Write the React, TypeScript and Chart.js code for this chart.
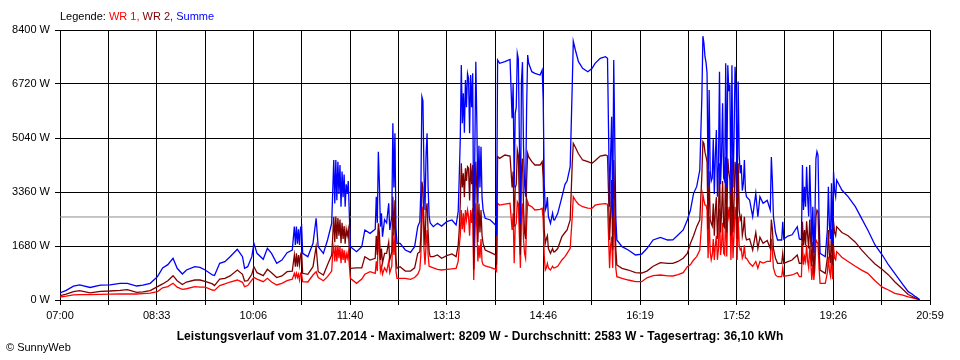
import React, { useEffect, useRef } from 'react';
import Chart from 'chart.js/auto';

// minutes after 07:00
const minutes = [
  0, 6, 13, 19, 29, 39, 48, 58, 65, 74, 80, 87, 94, 99, 104, 109, 113, 118, 122, 130, 135, 140, 147, 149, 154, 159, 164, 171, 176, 178, 181, 185, 187, 190, 196, 200, 204, 209, 214, 219, 224,
  226, 227, 228, 229, 230, 231, 232, 233, 234, 239, 244, 247, 249, 254, 258, 262,
  263, 264, 265, 266, 267, 268, 269, 270, 271, 272, 273, 274, 275, 276, 277, 278, 280, 286, 291, 294, 299, 304,
  305, 306, 307, 308, 309, 310, 311, 313, 315, 317, 318, 320, 321, 322, 323, 324, 325, 328, 333, 338, 342, 345, 347,
  348, 349, 350, 351, 352, 353, 354, 355, 356, 357, 360, 364, 368, 373, 378, 382, 384,
  385, 386, 387, 388, 389, 390, 391, 392, 393, 394, 395, 396, 397, 398, 399, 400, 401, 402, 403, 404, 405, 406, 407, 408, 410, 415, 420, 421, 422, 424, 429, 434,
  436, 437, 438, 439, 440, 441, 442, 443, 444, 445, 446, 447, 448, 449, 450, 451, 452, 455, 458, 463, 465,
  466, 467, 468, 469, 470, 471, 473, 475, 476, 477, 480, 484, 487, 489, 492, 494, 495, 497, 500, 504, 509, 513, 516, 521, 526, 528,
  529, 530, 531, 532, 533, 534, 535, 536, 537, 542, 548, 555, 561, 566, 572, 579, 586, 591, 596, 601, 605, 608, 611, 614, 617,
  619, 620, 621, 622, 623, 624, 625, 626, 627, 628, 629, 630, 631, 632, 633, 634, 635, 636, 637, 638, 639, 640,
  641, 642, 643, 644, 645, 646, 647, 648, 649, 650, 651, 652, 653, 654, 655, 656, 657, 658, 659, 660, 661, 662,
  665, 668, 671, 673, 675, 678, 682, 685, 686, 687, 688, 690, 692, 696, 697, 698, 702, 706, 711, 713, 715,
  716, 717, 718, 719, 720, 721, 722, 723, 724, 725, 726, 727, 728, 729, 730, 731, 732, 733, 738,
  740, 741, 742, 743, 744, 745, 746, 747, 748, 749, 754, 760, 767, 773, 779, 786, 793, 799, 805, 812, 818, 822, 825, 828, 829,
];

const wr1 = [
  93, 120, 160, 170, 166, 175, 180, 187, 190, 187, 200, 215, 260, 380, 415, 519, 400, 330, 350, 415, 400, 400, 311, 300, 450, 500, 560, 622, 550, 415, 450, 620, 705, 650, 570, 674, 560, 467, 520, 600, 650,
  830, 700, 830, 700, 800, 620, 830, 800, 570, 560, 778, 881, 700, 600, 726, 900,
  1452, 1659, 1200, 1700, 1200, 1700, 1300, 1650, 1141, 1600, 1250, 1550, 1150, 1450, 1300, 1500, 674, 519, 650, 800, 881, 830,
  1200, 900, 2178, 1500, 900, 1050, 800, 1000, 881, 1200, 850, 1050, 2126, 1400, 2000, 900, 674, 674, 674, 643, 700, 800, 950,
  1400, 2700, 2903, 1600, 1100, 1700, 2178, 1400, 1050, 1037, 1000, 950, 933, 950, 970, 986, 1200,
  1659, 2000, 2800, 2200, 2700, 2100, 2800, 2500, 2800, 2592, 2000, 2800, 2400, 2850, 620, 1800, 3007, 2200, 1200, 1700, 1300, 1900, 1200, 1100, 1058, 1016, 955, 900, 3007, 2955, 2986, 3007,
  2178, 2700, 1141, 2300, 2400, 3059, 3000, 2000, 1000, 2700, 3000, 1900, 1452, 1300, 2400, 3059, 2950, 2903, 2800, 2820, 2851,
  2500, 1348, 933, 1000, 1141, 1000, 933, 1050, 1000, 1000, 1050, 1244, 1350, 1452, 1608, 2592, 3215, 3100, 2980, 2903, 2860, 2851, 2950, 2986, 3000, 2980,
  2000, 986, 1700, 1970, 1000, 3007, 2000, 1000, 726, 674, 622, 570, 570, 690, 760, 778, 750, 747, 790, 850, 1037, 1100, 1244, 1350, 1556,
  2500, 3279, 3100, 2950, 2950, 2800, 1300, 2600, 1500, 1250, 1400, 1900, 1244, 1700, 2000, 1250, 1600, 2850, 1400, 1700, 2400, 1450,
  1400, 2900, 1350, 2900, 2600, 2903, 1244, 2900, 1300, 2000, 2900, 2500, 1244, 2600, 1700, 1556, 1600, 1300, 1400, 1700, 1300, 1300,
  1141, 1050, 1200, 986, 1200, 1150, 1200, 1200, 1900, 1556, 1000, 778, 726, 726, 1000, 740, 760, 778, 850, 726, 726,
  1763, 1100, 1350, 1200, 1711, 1200, 1000, 1650, 1200, 622, 1100, 622, 1000, 1867, 1800, 1750, 1000, 519, 519,
  850, 1348, 900, 750, 1400, 650, 1659, 1300, 1250, 1504, 1330, 1200, 1050, 930, 830, 600, 400, 311, 207, 156, 100, 70, 45, 20, 0,
];

const wr2 = [
  135, 180, 260, 290, 220, 270, 280, 300, 320, 240, 250, 290, 415, 500, 600, 757, 600, 480, 560, 622, 622, 580, 500, 450, 650, 674, 750, 933, 800, 590, 600, 800, 1037, 850, 760, 955, 850, 700, 750, 881, 900,
  1400, 1037, 1450, 1037, 1400, 1100, 1400, 1504, 830, 800, 1037, 1659, 881, 778, 1100, 1400,
  1970, 2592, 1800, 2600, 1900, 2550, 2000, 2500, 1763, 2400, 1900, 2300, 1750, 2200, 2000, 2200, 986, 1000, 1000, 1348, 1244, 1296,
  2000, 1400, 2386, 2100, 1244, 1600, 1150, 1450, 1452, 1800, 1244, 1500, 3215, 2000, 3100, 1300, 986, 1037, 900, 900, 1000, 1452, 1500,
  2000, 3681, 3500, 2400, 1700, 2800, 3007, 2100, 1500, 1348, 1350, 1400, 1300, 1380, 1431, 1348, 1700,
  2178, 3000, 4252, 3500, 3941, 3200, 4100, 3700, 4148, 4100, 3100, 4252, 3600, 4200, 950, 2800, 4304, 3400, 1800, 3000, 2100, 2800, 2000, 1763, 1556, 1480, 1400, 1100, 4459, 4407, 4511, 4480,
  3500, 4000, 2282, 3500, 3600, 4667, 4500, 3000, 1400, 4100, 4400, 2900, 2100, 1900, 3700, 4563, 4450, 4304, 4200, 4200, 4304,
  3800, 2178, 1763, 1900, 2000, 1600, 1452, 1600, 1500, 1500, 1600, 1970, 2100, 2178, 2489, 4252, 4874, 4750, 4550, 4356, 4304, 4252, 4330, 4480, 4511, 4480,
  3300, 1867, 2700, 3733, 1556, 4356, 3000, 1600, 1089, 986, 933, 850, 840, 900, 1050, 1161, 1140, 1141, 1200, 1300, 1450, 1763, 2000, 2282, 2489,
  3900, 4930, 4874, 4600, 4459, 4300, 2200, 4000, 2500, 2386, 2300, 3000, 2000, 2800, 3200, 1900, 2600, 4252, 2100, 2700, 3700, 2300,
  2250, 4459, 2100, 4400, 4000, 3733, 2000, 4400, 2100, 3000, 4300, 4000, 1900, 4252, 2800, 2500, 2600, 2000, 2200, 2592, 2000, 1867,
  1900, 1556, 2100, 1600, 1950, 1763, 1850, 1600, 2500, 2200, 1600, 1300, 1141, 1141, 1452, 1141, 1192, 1244, 1400, 1141, 1141,
  2437, 1700, 2178, 1700, 2450, 2000, 1600, 2500, 1800, 1050, 1800, 830, 1500, 2592, 2800, 2750, 1600, 933, 830,
  1300, 2178, 1400, 1150, 2200, 1100, 2437, 2100, 2000, 2282, 2100, 2000, 1800, 1560, 1350, 1120, 950, 780, 570, 360, 170, 110, 60, 20, 0,
];

const summe = [
  220, 300, 430, 470, 390, 460, 470, 520, 520, 435, 460, 519, 726, 1000, 1100, 1296, 986, 809, 933, 1037, 1016, 933, 778, 760, 1141, 1192, 1348, 1577, 1348, 986, 1037, 1348, 1763, 1452, 1265, 1608, 1452, 1141, 1244, 1473, 1556,
  2282, 1711, 2282, 1750, 2200, 1711, 2250, 2302, 1450, 1348, 1763, 2541, 1659, 1452, 1867, 2386,
  3370, 4356, 3000, 4356, 3100, 4300, 3300, 4200, 2900, 4000, 3200, 3900, 2900, 3600, 3300, 3700, 1659, 1504, 1659, 2178, 2074, 2200,
  3215, 2400, 4615, 3630, 2282, 2696, 1970, 2500, 2400, 3007, 2178, 2600, 5496, 3500, 5185, 2200, 1763, 1763, 1556, 1480, 1659, 2282, 2437,
  3400, 6325, 6200, 4000, 2800, 4500, 5185, 3500, 2592, 2400, 2282, 2386, 2300, 2437, 2489, 2333, 2747,
  3800, 5000, 7311, 5500, 6430, 5200, 6844, 6000, 7052, 6900, 5185, 7000, 6000, 7052, 1556, 4500, 7415, 5500, 3007, 4800, 3500, 4770, 3200, 2800, 2541, 2489, 2333, 2000, 7467, 7363, 7415, 7485,
  5652, 6740, 3500, 5800, 6000, 7674, 7500, 5000, 2400, 6800, 7400, 4770, 3600, 3215, 6000, 7622, 7363, 7103, 7052, 7000, 7155,
  6222, 3600, 2800, 2900, 3200, 2592, 2386, 2700, 2500, 2489, 2696, 3200, 3600, 3700, 4150, 6700, 8050, 7778, 7415, 7207, 7103, 7200, 7363, 7519, 7570, 7519,
  5289, 2900, 4500, 5700, 2600, 7467, 5000, 2592, 1867, 1659, 1556, 1400, 1430, 1600, 1867, 1950, 1867, 1870, 2022, 2178, 2489, 2800, 3318, 3526, 4044,
  6325, 8209, 7985, 7570, 7400, 7052, 3526, 6533, 4000, 3700, 3800, 5000, 3300, 4500, 5289, 3215, 4200, 7103, 3600, 4500, 6118, 3800,
  3700, 7363, 3500, 7300, 6500, 6700, 3300, 7300, 3500, 5000, 7259, 6500, 3200, 6800, 4500, 3941, 4200, 3400, 3630, 4356, 3400, 3215,
  3111, 2592, 3318, 2592, 3215, 3007, 3100, 2800, 4450, 3700, 2592, 2100, 1867, 1867, 2437, 1900, 1991, 2030, 2282, 1900, 1880,
  4200, 2800, 3526, 2900, 4148, 3200, 2600, 4200, 3000, 1659, 2900, 1452, 2500, 4400, 4615, 4500, 2600, 1452, 1348,
  2178, 3526, 2300, 1900, 3630, 1763, 3992, 3400, 3215, 3733, 3422, 3215, 2903, 2541, 2178, 1711, 1400, 1089, 830, 519, 259, 180, 104, 40, 0,
];

const xTickLabels = ['07:00', '08:33', '10:06', '11:40', '13:13', '14:46', '16:19', '17:52', '19:26', '20:59'];
const dayLength = 839; // 07:00 .. 20:59 in minutes
const yMax = 8400;
const yStep = 1680;
const average = 2583;

const FONT = '"Liberation Sans", Arial, sans-serif';

export default function App() {
  const ref = useRef<HTMLCanvasElement>(null);

  useEffect(() => {
    const pts = (arr: number[]) => minutes.map((m, i) => ({ x: m, y: arr[i] }));
    const line = { borderWidth: 1.3, pointRadius: 0, tension: 0, fill: false };
    const chart = new Chart(ref.current!, {
      type: 'line',
      data: {
        datasets: [
          { label: 'Summe', data: pts(summe), borderColor: '#0000ff', ...line },
          { label: 'WR 2', data: pts(wr2), borderColor: '#800000', ...line },
          { label: 'WR 1', data: pts(wr1), borderColor: '#ff0000', ...line },
          { label: 'Durchschnitt', data: [{ x: 0, y: average }, { x: dayLength, y: average }], borderColor: '#8c8c8c', ...line, borderWidth: 1 },
        ],
      },
      options: {
        animation: false,
        responsive: false,
        devicePixelRatio: 1,
        layout: { padding: { top: 30, right: 30, left: 0, bottom: 0 } },
        plugins: { legend: { display: false }, tooltip: { enabled: false }, title: { display: false } },
        scales: {
          x: {
            type: 'linear',
            min: 0,
            max: dayLength,
            afterBuildTicks: (scale: any) => {
              scale.ticks = Array.from({ length: 19 }, (_, i) => ({ value: (dayLength * i) / 18 }));
            },
            afterFit: (scale: any) => { scale.height = 60; },
            grid: { color: '#000', lineWidth: 1, tickLength: 5, drawTicks: true },
            border: { color: '#000', width: 1 },
            ticks: {
              autoSkip: false,
              maxRotation: 0,
              padding: 4,
              color: '#000',
              font: { family: FONT, size: 11 },
              callback: (_v: any, i: number) => (i % 2 === 0 ? xTickLabels[i / 2] : ''),
            },
          },
          y: {
            min: 0,
            max: yMax,
            afterFit: (scale: any) => { scale.width = 60; },
            grid: { color: '#000', lineWidth: 1, tickLength: 5, drawTicks: true },
            border: { color: '#000', width: 1 },
            ticks: {
              stepSize: yStep,
              padding: 5,
              color: '#000',
              font: { family: FONT, size: 11 },
              callback: (v: any) => `${v} W`,
            },
          },
        },
      },
    } as any);
    return () => chart.destroy();
  }, []);

  return (
    <div style={{ position: 'absolute', left: 0, top: 0, width: 960, height: 360, background: '#fff', fontFamily: FONT }}>
      <canvas ref={ref} width={960} height={360} style={{ position: 'absolute', left: 0, top: 0 }} />
      <div style={{ position: 'absolute', left: 60, top: 10, fontSize: 11, lineHeight: '13px', whiteSpace: 'nowrap' }}>
        <span style={{ color: '#000' }}>Legende: </span>
        <span style={{ color: '#ff0000' }}>WR 1, </span>
        <span style={{ color: '#800000' }}>WR 2, </span>
        <span style={{ color: '#0000ff' }}>Summe</span>
      </div>
      <div style={{ position: 'absolute', left: 0, width: 960, top: 329, fontSize: 12, lineHeight: '14px', fontWeight: 'bold', letterSpacing: '0.1px', textAlign: 'center', whiteSpace: 'nowrap' }}>
        Leistungsverlauf vom 31.07.2014 - Maximalwert: 8209 W - Durchschnitt: 2583 W - Tagesertrag: 36,10 kWh
      </div>
      <div style={{ position: 'absolute', left: 6, top: 341, fontSize: 11, lineHeight: '13px', whiteSpace: 'nowrap' }}>
        © SunnyWeb
      </div>
    </div>
  );
}
